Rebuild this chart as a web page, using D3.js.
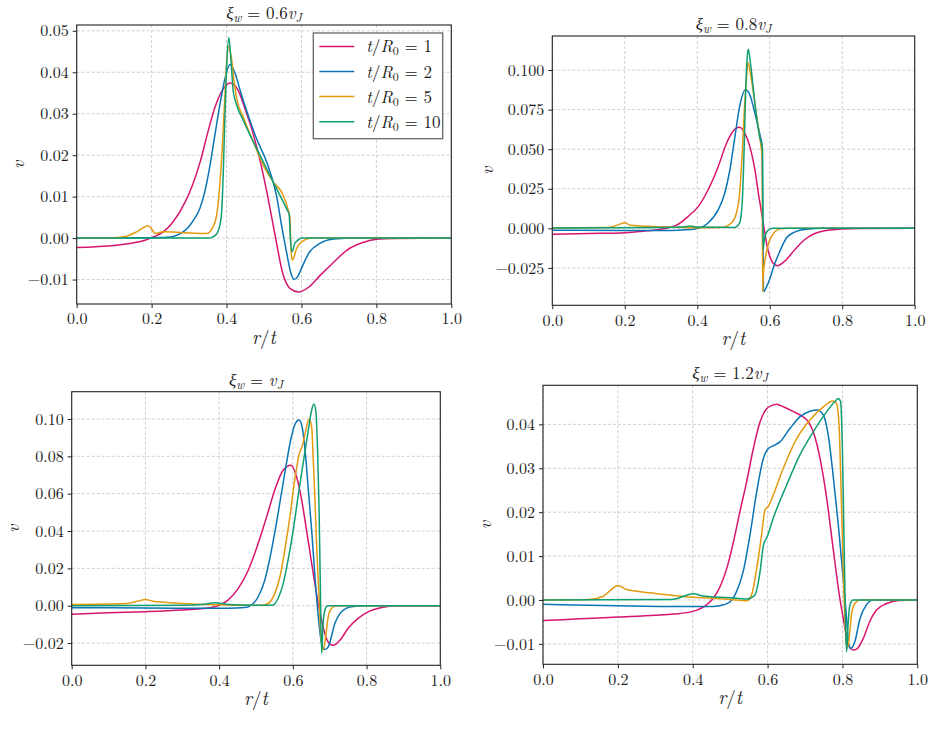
<html>
<head>
<meta charset="utf-8">
<title>velocity profiles</title>
<script src="https://cdn.jsdelivr.net/npm/d3@7"></script>
<style>
body { margin: 0; background: #fff; }
</style>
</head>
<body>
<svg width="934" height="749"></svg>
<script>
var FONT = "'Latin Modern Roman', 'Liberation Serif', serif";

// series names and colours
var series = ["1", "2", "5", "10"];
var colors = ["#d6156f", "#0a74b5", "#e29a10", "#0f9e74"];

// x ticks are shared by all panels
var xTicks = [0, 0.2, 0.4, 0.6, 0.8, 1.0];

// xi_w = 0.6 v_J
var a_t1 = [[0,-0.0023],[0.05,-0.0021],[0.1,-0.0018],[0.142,-0.0013],[0.18,-0.0006],[0.2,0.0001],[0.231,0.0015],[0.258,0.0040],[0.29,0.0088],[0.31,0.0130],[0.33,0.0185],[0.35,0.0255],[0.37,0.0318],[0.39,0.0358],[0.41,0.0374],[0.43,0.0358],[0.45,0.0310],[0.47,0.0255],[0.49,0.0185],[0.51,0.0100],[0.53,0.0005],[0.55,-0.0085],[0.57,-0.0122],[0.592,-0.0130],[0.62,-0.0118],[0.65,-0.0090],[0.684,-0.0060],[0.72,-0.0030],[0.76,-0.0012],[0.8,-0.0003],[0.85,-0.0001],[1.0,0]];
var a_t2 = [[0,0],[0.2,0.0001],[0.24,0.0002],[0.258,0.0004],[0.284,0.0015],[0.3,0.0028],[0.311,0.0042],[0.329,0.0072],[0.342,0.0112],[0.356,0.0176],[0.369,0.0249],[0.382,0.0320],[0.396,0.0386],[0.409,0.0419],[0.422,0.0400],[0.436,0.0357],[0.453,0.0309],[0.48,0.0240],[0.507,0.0184],[0.533,0.0104],[0.547,0.0030],[0.56,-0.0033],[0.572,-0.0085],[0.58,-0.0100],[0.59,-0.0093],[0.6,-0.0073],[0.622,-0.0033],[0.649,-0.0013],[0.685,-0.0002],[0.75,0],[1,0]];
var a_t5 = [[0,0],[0.1,0.0001],[0.13,0.0004],[0.16,0.0015],[0.191,0.0030],[0.2,0.0022],[0.209,0.0011],[0.231,0.0015],[0.285,0.0013],[0.347,0.0011],[0.364,0.0027],[0.375,0.0064],[0.382,0.0128],[0.388,0.0209],[0.394,0.0313],[0.4,0.0418],[0.406,0.0462],[0.413,0.0434],[0.42,0.0380],[0.427,0.0337],[0.444,0.0293],[0.471,0.0233],[0.498,0.0176],[0.524,0.0136],[0.551,0.0104],[0.564,0.0070],[0.569,0.0050],[0.573,-0.0041],[0.576,-0.0053],[0.587,-0.0025],[0.604,-0.0007],[0.627,0],[1,0]];
var a_t10 = [[0,0],[0.35,0],[0.364,0.0003],[0.375,0.0012],[0.383,0.0035],[0.387,0.0064],[0.391,0.0150],[0.395,0.0273],[0.4,0.0410],[0.406,0.0484],[0.412,0.0426],[0.418,0.0353],[0.427,0.0321],[0.444,0.0285],[0.471,0.0233],[0.498,0.0184],[0.524,0.0136],[0.551,0.0088],[0.564,0.0064],[0.567,0.0058],[0.571,-0.0009],[0.575,-0.0033],[0.582,-0.0013],[0.591,-0.0005],[0.6,0],[1,0]];

// xi_w = 0.8 v_J
var b_t1 = [[0,-0.0038],[0.1,-0.0033],[0.2,-0.0027],[0.25,-0.0018],[0.3,-0.0006],[0.32,0.0004],[0.343,0.0020],[0.375,0.0076],[0.403,0.0139],[0.43,0.0244],[0.458,0.0391],[0.481,0.0539],[0.504,0.0627],[0.516,0.0638],[0.531,0.0602],[0.545,0.0518],[0.559,0.0370],[0.57,0.0202],[0.582,0.0034],[0.595,-0.0135],[0.609,-0.0219],[0.621,-0.0236],[0.641,-0.0208],[0.669,-0.0135],[0.696,-0.0072],[0.739,-0.0021],[0.8,-0.0004],[0.85,-0.0001],[1,0]];
var b_t2 = [[0,-0.0012],[0.2,-0.0013],[0.3,-0.0014],[0.36,-0.0010],[0.39,-0.0005],[0.41,0.0005],[0.43,0.0034],[0.458,0.0118],[0.476,0.0223],[0.49,0.0370],[0.504,0.0580],[0.517,0.0770],[0.533,0.0875],[0.545,0.0844],[0.559,0.0728],[0.572,0.0602],[0.579,0.0518],[0.5805,0.0200],[0.583,-0.0400],[0.59,-0.0375],[0.6,-0.0320],[0.612,-0.0235],[0.624,-0.0165],[0.647,-0.0058],[0.67,-0.0022],[0.7,-0.0006],[0.75,0],[1,0]];
var b_t5 = [[0,0.0003],[0.15,0.0005],[0.185,0.0025],[0.2,0.0036],[0.215,0.0019],[0.3,0.0010],[0.4,0.0004],[0.467,0.0006],[0.494,0.0034],[0.508,0.0097],[0.517,0.0223],[0.524,0.0476],[0.531,0.0790],[0.537,0.0980],[0.54,0.1048],[0.548,0.0960],[0.559,0.0790],[0.572,0.0580],[0.577,0.0500],[0.579,0.0450],[0.5805,-0.0400],[0.582,-0.0300],[0.587,-0.0200],[0.594,-0.0120],[0.6,-0.0074],[0.614,-0.0021],[0.63,-0.0002],[0.65,0],[1,0]];
var b_t10 = [[0,0.0003],[0.3,0.0005],[0.36,0.0008],[0.38,0.0015],[0.4,0.0008],[0.504,0.0006],[0.517,0.0034],[0.524,0.0160],[0.529,0.0476],[0.534,0.0896],[0.539,0.1110],[0.541,0.1132],[0.548,0.1020],[0.559,0.0790],[0.572,0.0580],[0.58,0.0500],[0.5815,-0.0137],[0.584,-0.0090],[0.59,-0.0030],[0.598,-0.0008],[0.61,0],[1,0]];

// xi_w = v_J
var c_t1 = [[0,-0.0045],[0.1,-0.0038],[0.2,-0.0032],[0.3,-0.0023],[0.35,-0.0016],[0.38,-0.0009],[0.4,0.0002],[0.424,0.0030],[0.452,0.0093],[0.479,0.0190],[0.506,0.0334],[0.529,0.0477],[0.551,0.0620],[0.574,0.0727],[0.595,0.0752],[0.61,0.0691],[0.624,0.0566],[0.637,0.0405],[0.651,0.0227],[0.664,0.0066],[0.678,-0.0077],[0.691,-0.0175],[0.705,-0.0210],[0.71,-0.0212],[0.728,-0.0184],[0.75,-0.0121],[0.777,-0.0068],[0.805,-0.0032],[0.841,-0.0009],[0.88,0],[1,0]];
var c_t2 = [[0,-0.0011],[0.2,-0.0012],[0.4,-0.0014],[0.424,-0.0014],[0.47,-0.0010],[0.488,0.0004],[0.506,0.0048],[0.524,0.0138],[0.542,0.0298],[0.56,0.0495],[0.578,0.0709],[0.596,0.0905],[0.605,0.0968],[0.617,0.0995],[0.625,0.0959],[0.633,0.0834],[0.642,0.0620],[0.651,0.0405],[0.66,0.0155],[0.669,-0.0059],[0.678,-0.0202],[0.687,-0.0234],[0.696,-0.0220],[0.714,-0.0095],[0.732,-0.0032],[0.759,-0.0005],[0.8,0],[1,0]];
var c_t5 = [[0,0.0007],[0.15,0.0012],[0.18,0.0025],[0.2,0.0034],[0.22,0.0024],[0.25,0.0019],[0.3,0.0012],[0.4,0.0005],[0.515,0.0002],[0.533,0.0012],[0.551,0.0066],[0.565,0.0155],[0.578,0.0298],[0.592,0.0477],[0.605,0.0673],[0.619,0.0825],[0.625,0.0852],[0.633,0.0920],[0.644,0.0998],[0.651,0.0959],[0.655,0.0798],[0.66,0.0566],[0.665,0.0298],[0.671,0.0048],[0.676,-0.0166],[0.682,-0.0238],[0.689,-0.0166],[0.696,-0.0059],[0.705,-0.0014],[0.719,0],[1,0]];
var c_t10 = [[0,0],[0.3,0.0002],[0.36,0.0008],[0.388,0.0016],[0.424,0.0007],[0.515,0.0002],[0.547,0.0004],[0.56,0.0040],[0.574,0.0120],[0.587,0.0245],[0.601,0.0405],[0.614,0.0584],[0.628,0.0763],[0.642,0.0941],[0.651,0.1048],[0.657,0.1080],[0.662,0.1048],[0.667,0.0834],[0.671,0.0530],[0.674,0.0173],[0.678,-0.0255],[0.682,-0.0095],[0.687,-0.0023],[0.694,0],[1,0]];

// xi_w = 1.2 v_J
var d_t1 = [[0,-0.0047],[0.1,-0.0043],[0.2,-0.0039],[0.3,-0.0035],[0.35,-0.0032],[0.4,-0.0026],[0.437,-0.0011],[0.455,0.0004],[0.473,0.0030],[0.491,0.0072],[0.509,0.0133],[0.526,0.0201],[0.544,0.0269],[0.562,0.0345],[0.58,0.0406],[0.598,0.0436],[0.615,0.0444],[0.624,0.0446],[0.642,0.0440],[0.669,0.0429],[0.695,0.0417],[0.709,0.0406],[0.722,0.0383],[0.74,0.0323],[0.758,0.0231],[0.775,0.0118],[0.793,0.0004],[0.807,-0.0065],[0.815,-0.0102],[0.829,-0.0114],[0.838,-0.0112],[0.856,-0.0087],[0.873,-0.0049],[0.891,-0.0023],[0.918,-0.0008],[0.95,-0.0001],[1,0]];
var d_t2 = [[0,-0.0010],[0.2,-0.0013],[0.4,-0.0015],[0.455,-0.0015],[0.482,-0.0011],[0.5,-0.0004],[0.517,0.0019],[0.535,0.0065],[0.553,0.0148],[0.571,0.0247],[0.589,0.0323],[0.602,0.0345],[0.615,0.0351],[0.633,0.0360],[0.66,0.0391],[0.686,0.0417],[0.713,0.0430],[0.733,0.0433],[0.749,0.0421],[0.762,0.0376],[0.775,0.0285],[0.789,0.0171],[0.802,0.0049],[0.811,-0.0042],[0.817,-0.0102],[0.822,-0.0110],[0.833,-0.0095],[0.847,-0.0042],[0.864,-0.0011],[0.882,0],[1,0]];
var d_t5 = [[0,0],[0.12,0.0001],[0.16,0.0008],[0.18,0.0022],[0.2,0.0033],[0.223,0.0024],[0.25,0.0020],[0.3,0.0015],[0.4,0.0006],[0.455,0.0004],[0.5,0.0001],[0.544,-0.0002],[0.557,0.0011],[0.571,0.0072],[0.584,0.0148],[0.593,0.0205],[0.602,0.0213],[0.615,0.0239],[0.642,0.0300],[0.678,0.0368],[0.713,0.0410],[0.749,0.0440],[0.775,0.0453],[0.784,0.0448],[0.791,0.0398],[0.796,0.0262],[0.802,0.0072],[0.808,-0.0072],[0.813,-0.0110],[0.818,-0.0087],[0.824,-0.0034],[0.833,-0.0008],[0.847,0],[1,0]];
var d_t10 = [[0,0],[0.33,0.0001],[0.357,0.0003],[0.384,0.0011],[0.402,0.0014],[0.428,0.0009],[0.5,0.0005],[0.544,0.0002],[0.566,0.0011],[0.58,0.0065],[0.589,0.0125],[0.599,0.0144],[0.615,0.0186],[0.651,0.0262],[0.686,0.0330],[0.722,0.0383],[0.758,0.0429],[0.78,0.0452],[0.789,0.0459],[0.795,0.0452],[0.8,0.0338],[0.804,0.0148],[0.808,-0.0042],[0.811,-0.0118],[0.815,-0.0057],[0.82,-0.0011],[0.829,0],[1,0]];

// y ticks
var aTicks = [-0.01, 0, 0.01, 0.02, 0.03, 0.04, 0.05];
var bTicks = [-0.025, 0, 0.025, 0.05, 0.075, 0.1];
var cTicks = [-0.02, 0, 0.02, 0.04, 0.06, 0.08, 0.1];
var dTicks = [-0.01, 0, 0.01, 0.02, 0.03, 0.04];

var panels = [
  {id: "a", box: [76.7, 25, 451.3, 304], y: [-0.0159, 0.0514], ticks: aTicks, dec: 2, data: [a_t1, a_t2, a_t5, a_t10], title: "0.6", vgap: 60, legend: true},
  {id: "b", box: [552.3, 36, 914.7, 305.3], y: [-0.0486, 0.1215], ticks: bTicks, dec: 3, data: [b_t1, b_t2, b_t5, b_t10], title: "0.8", vgap: 67},
  {id: "c", box: [71.7, 391.7, 440.3, 665.3], y: [-0.0319, 0.1146], ticks: cTicks, dec: 2, data: [c_t1, c_t2, c_t5, c_t10], title: "", vgap: 60},
  {id: "d", box: [543, 385.3, 917.3, 664.3], y: [-0.01465, 0.0489], ticks: dTicks, dec: 2, data: [d_t1, d_t2, d_t5, d_t10], title: "1.2", vgap: 60}
];

var svg = d3.select("svg");
var defs = svg.append("defs");

function minus(s) { return s.replace("-", "\u2212"); }

function label(sel, size) {
  return sel.style("font-family", FONT).style("font-size", size + "px").attr("fill", "#1a1a1a");
}

panels.forEach(function(p) {
  var x0 = p.box[0], y0 = p.box[1], x1 = p.box[2], y1 = p.box[3];
  var x = d3.scaleLinear().domain([0, 1]).range([x0, x1]);
  var y = d3.scaleLinear().domain(p.y).range([y1, y0]);
  var g = svg.append("g");

  defs.append("clipPath").attr("id", "clip-" + p.id)
    .append("rect").attr("x", x0).attr("y", y0).attr("width", x1 - x0).attr("height", y1 - y0);

  // grid
  g.selectAll(".gx").data(xTicks).enter().append("line")
    .attr("x1", function(d) { return x(d); }).attr("x2", function(d) { return x(d); })
    .attr("y1", y0).attr("y2", y1)
    .attr("stroke", "#c4c4c4").attr("stroke-width", 0.8).attr("stroke-dasharray", "3,2");
  g.selectAll(".gy").data(p.ticks).enter().append("line")
    .attr("x1", x0).attr("x2", x1)
    .attr("y1", function(d) { return y(d); }).attr("y2", function(d) { return y(d); })
    .attr("stroke", "#c4c4c4").attr("stroke-width", 0.8).attr("stroke-dasharray", "3,2");

  // curves
  var line = d3.line().x(function(d) { return x(d[0]); }).y(function(d) { return y(d[1]); })
    .curve(d3.curveMonotoneX);
  var cg = g.append("g").attr("clip-path", "url(#clip-" + p.id + ")");
  p.data.forEach(function(s, i) {
    cg.append("path").attr("d", line(s)).attr("fill", "none")
      .attr("stroke", colors[i]).attr("stroke-width", 1.5).attr("stroke-linejoin", "round");
  });

  // axes
  var fmtX = d3.format(".1f"), fmtY = d3.format("." + p.dec + "f");
  var ax = g.append("g").attr("transform", "translate(0," + y1 + ")")
    .call(d3.axisBottom(x).tickValues(xTicks).tickFormat(fmtX).tickSize(4).tickPadding(5));
  var ay = g.append("g").attr("transform", "translate(" + x0 + ",0)")
    .call(d3.axisLeft(y).tickValues(p.ticks).tickFormat(function(d) { return minus(fmtY(d)); }).tickSize(4).tickPadding(4));
  [ax, ay].forEach(function(a) {
    a.select(".domain").remove();
    a.selectAll("line").attr("stroke", "#222");
    label(a.selectAll("text"), 16);
  });

  g.append("rect").attr("x", x0).attr("y", y0).attr("width", x1 - x0).attr("height", y1 - y0)
    .attr("fill", "none").attr("stroke", "#222").attr("stroke-width", 1.1);

  // title
  var cx = (x0 + x1) / 2;
  var t = label(g.append("text"), 17).attr("x", cx).attr("y", y0 - 6).attr("text-anchor", "middle");
  t.append("tspan").style("font-style", "italic").text("\u03be");
  t.append("tspan").style("font-style", "italic").style("font-size", "12px").attr("dy", 3).text("w");
  t.append("tspan").attr("dy", -3).text(" = " + p.title);
  t.append("tspan").style("font-style", "italic").text("v");
  t.append("tspan").style("font-style", "italic").style("font-size", "12px").attr("dy", 3).text("J");

  // axis labels
  var xl = label(g.append("text"), 19).attr("x", cx).attr("y", y1 + 40).attr("text-anchor", "middle");
  xl.append("tspan").style("font-style", "italic").text("r");
  xl.append("tspan").text("/");
  xl.append("tspan").style("font-style", "italic").text("t");
  label(g.append("text"), 18).attr("transform", "translate(" + (x0 - p.vgap) + "," + ((y0 + y1) / 2) + ") rotate(-90)")
    .attr("text-anchor", "middle").attr("dominant-baseline", "central").style("font-style", "italic").text("v");

  if (p.legend) {
    var lx = x1 - 138, ly = y0 + 8;
    var lg = g.append("g");
    lg.append("rect").attr("x", lx).attr("y", ly).attr("width", 129.4).attr("height", 105.7)
      .attr("fill", "#fff").attr("stroke", "#666").attr("stroke-width", 1.3);
    series.forEach(function(s, i) {
      var ry = ly + 13.4 + i * 25.1;
      lg.append("line").attr("x1", lx + 6).attr("x2", lx + 41).attr("y1", ry).attr("y2", ry)
        .attr("stroke", colors[i]).attr("stroke-width", 1.5);
      var lt = label(lg.append("text"), 17).attr("x", lx + 53).attr("y", ry + 6);
      lt.append("tspan").style("font-style", "italic").text("t");
      lt.append("tspan").text("/");
      lt.append("tspan").style("font-style", "italic").text("R");
      lt.append("tspan").style("font-size", "12px").attr("dy", 3).text("0");
      lt.append("tspan").attr("dy", -3).text(" = " + s);
    });
  }
});
</script>
</body>
</html>
